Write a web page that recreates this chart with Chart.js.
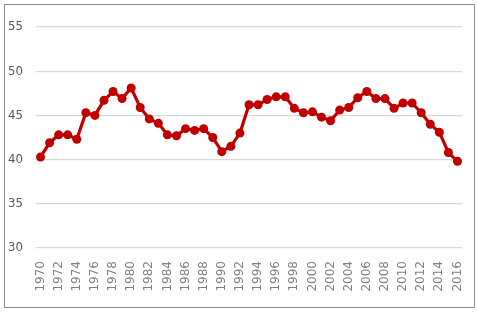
<!DOCTYPE html>
<html>
<head>
<meta charset="utf-8">
<script src="https://cdn.jsdelivr.net/npm/chart.js@4/dist/chart.umd.min.js"></script>
<style>
  html, body { margin: 0; padding: 0; background: #fff; }
  #wrap { position: relative; width: 478px; height: 315px; }
  #frame { position: absolute; left: 4px; top: 4px; width: 469px; height: 302px; border: 1px solid #8c8c8c; }
  canvas { position: absolute; left: 0; top: 0; }
</style>
</head>
<body>
<div id="wrap">
  <div id="frame"></div>
  <canvas id="lineChart" width="478" height="315"></canvas>
</div>
<script>
// years 1970..2016
const years = [];
for (let y = 1970; y <= 2016; y++) years.push(String(y));

// values
const values = [
  40.3, 41.9, 42.8, 42.8, 42.3, 45.3, 45.0, 46.7, 47.7, 46.9,
  48.1, 45.9, 44.6, 44.1, 42.8, 42.7, 43.5, 43.3, 43.5, 42.5,
  40.9, 41.5, 43.0, 46.2, 46.2, 46.8, 47.1, 47.1, 45.8, 45.3,
  45.4, 44.8, 44.4, 45.6, 45.9, 47.0, 47.7, 46.9, 46.9, 45.8,
  46.4, 46.4, 45.3, 44.0, 43.1, 40.8, 39.8
];

const yTicks = [30, 35, 40, 45, 50, 55];

document.addEventListener("DOMContentLoaded", function() {
    const ctx = document.getElementById('lineChart').getContext('2d');

    new Chart(ctx, {
        type: 'line',
        data: {
            labels: years,
            datasets: [{
                data: values,
                borderColor: '#c00000',
                backgroundColor: '#c00000',
                borderWidth: 3.2,
                pointRadius: 4.5,
                pointBorderWidth: 0,
                tension: 0
            }]
        },
        options: {
            responsive: false,
            animation: false,
            layout: { padding: { left: 5, right: 16, top: 27, bottom: 20 } },
            plugins: { legend: { display: false }, tooltip: { enabled: false } },
            scales: {
                x: {
                    offset: true,
                    grid: { display: false, drawTicks: false },
                    border: { display: false },
                    afterFit: function(axis) {
                        axis.height = 47;
                        axis.paddingLeft = 0;
                        axis.paddingRight = 0;
                    },
                    ticks: {
                        autoSkip: false,
                        minRotation: 90,
                        maxRotation: 90,
                        padding: 13,
                        color: '#808080',
                        font: { family: 'DejaVu Sans', size: 12 },
                        callback: function(v, i) { return i % 2 === 0 ? years[i] : ''; }
                    }
                },
                y: {
                    min: yTicks[0],
                    max: yTicks[yTicks.length - 1],
                    afterBuildTicks: function(axis) { axis.ticks = yTicks.map(v => ({ value: v })); },
                    afterFit: function(axis) {
                        axis.width = 31;
                        axis.paddingTop = 0;
                        axis.paddingBottom = 0;
                    },
                    grid: { color: '#d9d9d9', lineWidth: 1.3, drawTicks: false },
                    border: { display: false },
                    ticks: {
                        padding: 13,
                        color: '#595959',
                        font: { family: "'Liberation Sans Narrow', 'DejaVu Sans Condensed', 'Liberation Sans'", size: 13 }
                    }
                }
            }
        }
    });
});
</script>
</body>
</html>
